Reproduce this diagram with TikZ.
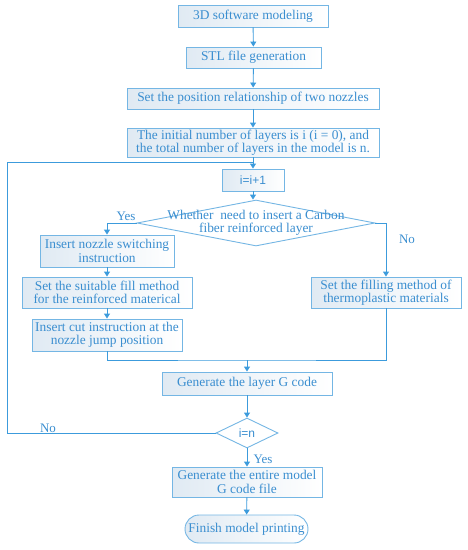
\documentclass[tikz,border=0pt]{standalone}
\usepackage{fontspec}
\setmainfont{Liberation Serif}
\newfontfamily\sansf{Liberation Sans}
\usetikzlibrary{arrows.meta,shapes.geometric}
\definecolor{lineblue}{HTML}{3C9BDC}
\definecolor{boxblue}{HTML}{74B6E4}
\definecolor{textblue}{HTML}{3A8ED0}
\definecolor{shadeblue}{HTML}{E0EAF3}
\tikzset{
  box/.style={draw=boxblue, line width=0.9pt, left color=shadeblue, right color=white,
    inner sep=0pt, align=center, text=textblue,
    font=\fontsize{13.4}{13.4}\selectfont},
  dia/.style={diamond, draw=boxblue, line width=0.9pt, fill=white, inner sep=0pt},
  txt/.style={text=textblue, align=center, font=\fontsize{13.4}{13.4}\selectfont, inner sep=0pt},
  lbl/.style={text=textblue, font=\fontsize{13}{13}\selectfont, inner sep=0pt},
  conn/.style={draw=lineblue, line width=0.9pt},
  arr/.style={conn, -{Triangle[width=6pt,length=5pt]}},
}
\begin{document}
\begin{tikzpicture}[x=1pt,y=-1pt]
\useasboundingbox (0,0) rectangle (467,550);
\node[box, minimum width=150pt, minimum height=22pt] (b1) at (253,16) {3D software modeling};
\node[box, minimum width=135pt, minimum height=21pt] (b2) at (253.5,57.5) {STL file generation};
\node[box, minimum width=252pt, minimum height=21pt] (b3) at (253,98.5) {Set the position relationship of two nozzles};
\node[box, minimum width=252pt, minimum height=29pt] (b4) at (253,142.5) {The initial number of layers is i (i = 0), and\\the total number of layers in the model is n.};
\node[box, minimum width=62pt, minimum height=22pt, font=\sansf\fontsize{12}{13}\selectfont] (b5) at (253,180) {i=i+1};
\node[dia, minimum width=238pt, minimum height=46pt] (d1) at (256,223) {};
\node[txt] (d1t) at (256,222.5) {Whether\ \ need to insert a Carbon\\fiber reinforced layer};
\node[box, minimum width=134pt, minimum height=32pt] (b6) at (107,251) {Insert nozzle switching\\instruction};
\node[box, minimum width=170pt, minimum height=31pt] (b7) at (107,292.5) {Set the suitable fill method\\for the reinforced materical};
\node[box, minimum width=150pt, minimum height=32pt] (b8) at (107,335) {Insert cut instruction at the\\nozzle jump position};
\node[box, minimum width=150pt, minimum height=31pt] (b9) at (386,292.5) {Set the filling method of\\thermoplastic materials};
\node[box, minimum width=170pt, minimum height=23pt] (b10) at (247,383.5) {Generate the layer G code};
\node[dia, minimum width=62pt, minimum height=30pt, text=textblue, font=\sansf\fontsize{12}{13}\selectfont] (d2) at (247,433) {i=n};
\node[box, minimum width=150pt, minimum height=30pt] (b11) at (247,482) {Generate the entire model\\G code file};
\node[box, rounded corners=14pt, minimum width=123pt, minimum height=28pt] (b12) at (246.5,529) {Finish model printing};
% labels
\node[lbl] (yes1) at (126,216) {Yes};
\node[lbl] (no1) at (407,239) {No};
\node[lbl] (no2) at (48,428) {No};
\node[lbl] (yes2) at (263,459) {Yes};
% coordinates
\coordinate (lb) at (7,433);
\coordinate (lt) at (7,162);
\coordinate (j) at (253,162);
\coordinate (m) at (247,360);
% connectors
\draw[arr] (b1) -- (b2);
\draw[arr] (b2) -- (b3);
\draw[arr] (b3) -- (b4);
\draw[arr] (b4) -- (b5);
\draw[arr] (b5.south) -- (b5.south |- d1.north);
\draw[arr] (d1.west) -| (b6.north);
\draw[arr] (d1.east) -| (b9.north);
\draw[arr] (b6) -- (b7);
\draw[arr] (b7) -- (b8);
\draw[conn] (b8.south) |- (m) -| (b9.south);
\draw[arr] (m) -- (b10.north);
\draw[arr] (b10) -- (d2);
\draw[arr] (d2) -- (b11);
\draw[arr] (b11) -- (b12);
\draw[conn] (d2.west) -- (lb) -- (lt) -- (j);
\end{tikzpicture}
\end{document}
